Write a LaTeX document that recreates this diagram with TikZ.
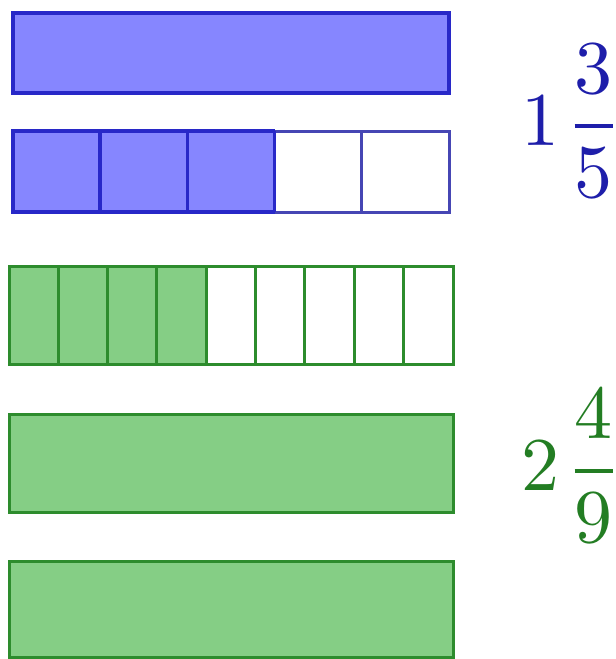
\documentclass[tikz,border=0pt]{standalone}
\usepackage{graphicx}
\definecolor{bfill}{RGB}{134,134,255}
\definecolor{bline}{RGB}{40,40,200}
\definecolor{bline2}{RGB}{70,70,180}
\definecolor{gfill}{RGB}{133,206,133}
\definecolor{gline}{RGB}{45,140,45}
\definecolor{btext}{RGB}{30,30,170}
\definecolor{gtext}{RGB}{35,125,35}
\tikzset{
  bluebar/.style={draw=bline, line width=3.5pt},
  greenbar/.style={draw=gline, line width=3pt},
  lbl/.style={inner sep=0pt, anchor=base west}
}
\begin{document}
\begin{tikzpicture}[x=1pt,y=-1pt]
\useasboundingbox (0,0) rectangle (616,659);
% blue whole
\path[bluebar, fill=bfill] (13,13) rectangle (449,93);
% blue fifths
\fill[bfill] (13,131) rectangle (274.6,212);
\path[bluebar, draw=bline2, line width=3pt] (274.6,131) rectangle (449,212);
\draw[bluebar, draw=bline2, line width=3pt] (361.8,131) -- (361.8,212);
\foreach \i in {1,...,3}{
  \draw[bluebar] ({13+\i*87.2},131) -- ({13+\i*87.2},212);
}
\draw[bluebar] (274.6,131) -- (13,131) -- (13,212) -- (274.6,212);
% green ninths
\fill[gfill] (9,266) rectangle ({9+4*49.33},364);
\foreach \i in {1,...,8}{
  \draw[greenbar] ({9+\i*49.33},266) -- ({9+\i*49.33},364);
}
\path[greenbar] (9,266) rectangle (453,364);
% green wholes
\path[greenbar, fill=gfill] (9,414) rectangle (453,512);
\path[greenbar, fill=gfill] (9,561) rectangle (453,657);
% labels
\node[lbl, text=btext] (l1) at (521,145) {\scalebox{7.6}{$\displaystyle 1\mkern1.5mu\frac{3}{5}$}};
\node[lbl, text=gtext] (l2) at (521,490) {\scalebox{7.6}{$\displaystyle 2\mkern1.5mu\frac{4}{9}$}};
\end{tikzpicture}
\end{document}
